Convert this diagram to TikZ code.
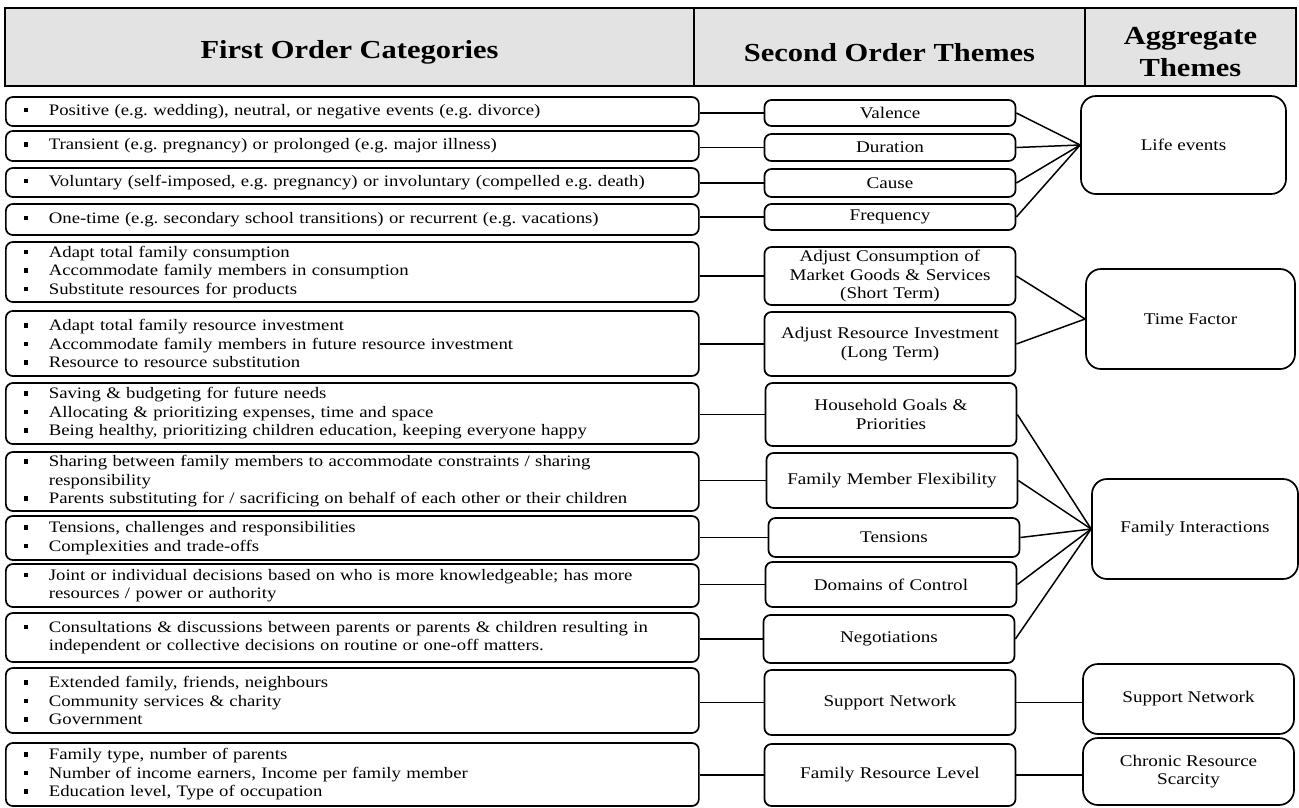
\documentclass[tikz,border=0pt]{standalone}
\usepackage{fontspec}
\setmainfont{Liberation Serif}[FakeStretch=1.172]
\usepackage{tikz}
\frenchspacing

\newcommand{\sqb}{\makebox[25pt][l]{\rule[3pt]{4.5pt}{4.5pt}}}
\newcommand{\nob}{\makebox[25pt][l]{}}

\begin{document}
\begin{tikzpicture}[x=1pt, y=-1pt,
    headcell/.style={draw, fill=black!11, line width=1.3pt, inner sep=0pt, align=center,
        minimum height=78, font=\bfseries\fontsize{26}{32}\selectfont},
    firstbox/.style={draw, rounded corners=7pt, line width=1.7pt, anchor=west, align=left,
        inner xsep=18pt, inner ysep=0pt, text width=657pt, font=\fontsize{16}{18.5}\selectfont},
    secbox/.style={draw, rounded corners=7pt, line width=1.7pt, align=center, inner sep=0pt,
        text width=251pt, font=\fontsize{16.3}{18.5}\selectfont},
    aggbox/.style={draw, rounded corners=15pt, line width=1.7pt, align=center, inner sep=0pt,
        font=\fontsize{16.3}{18.5}\selectfont},
    link/.style={line width=1.5pt}]
    \useasboundingbox (0,0) rectangle (1299,807);

    % header
    \node[headcell, minimum width=689, text height=29pt] (hf) at (349.5,47) {First Order Categories};
    \node[headcell, minimum width=391, text height=29pt] (hs) at (889.5,47) {Second Order Themes};
    \node[headcell, minimum width=211, text height=60pt] (ha) at (1190.5,47) {Aggregate\\Themes};

    % first order categories
    \node[firstbox, minimum height=29] (f1) at (5,111.5)
        {\sqb Positive (e.g. wedding), neutral, or negative events (e.g. divorce)};
    \node[firstbox, minimum height=30] (f2) at (5,146)
        {\sqb Transient (e.g. pregnancy) or prolonged (e.g. major illness)};
    \node[firstbox, minimum height=29] (f3) at (5,182.5)
        {\sqb Voluntary (self-imposed, e.g. pregnancy) or involuntary (compelled e.g. death)};
    \node[firstbox, minimum height=31] (f4) at (5,219.5)
        {\sqb One-time (e.g. secondary school transitions) or recurrent (e.g. vacations)};
    \node[firstbox, minimum height=60] (f5) at (5,272)
        {\sqb Adapt total family consumption\\
         \sqb Accommodate family members in consumption\\
         \sqb Substitute resources for products};
    \node[firstbox, minimum height=65] (f6) at (5,343.5)
        {\sqb Adapt total family resource investment\\
         \sqb Accommodate family members in future resource investment\\
         \sqb Resource to resource substitution};
    \node[firstbox, minimum height=61] (f7) at (5,413.5)
        {\sqb Saving \& budgeting for future needs\\
         \sqb Allocating \& prioritizing expenses, time and space\\
         \sqb Being healthy, prioritizing children education, keeping everyone happy};
    \node[firstbox, minimum height=59] (f8) at (5,481.5)
        {\sqb Sharing between family members to accommodate constraints / sharing\\
         \nob responsibility\\
         \sqb Parents substituting for / sacrificing on behalf of each other or their children};
    \node[firstbox, minimum height=44] (f9) at (5,538)
        {\sqb Tensions, challenges and responsibilities\\
         \sqb Complexities and trade-offs};
    \node[firstbox, minimum height=43] (f10) at (5,585.5)
        {\sqb Joint or individual decisions based on who is more knowledgeable; has more\\
         \nob resources / power or authority};
    \node[firstbox, minimum height=49] (f11) at (5,637.5)
        {\sqb Consultations \& discussions between parents or parents \& children resulting in\\
         \nob independent or collective decisions on routine or one-off matters.};
    \node[firstbox, minimum height=65] (f12) at (5,700.5)
        {\sqb Extended family, friends, neighbours\\
         \sqb Community services \& charity\\
         \sqb Government};
    \node[firstbox, minimum height=63] (f13) at (5,774.5)
        {\sqb Family type, number of parents\\
         \sqb Number of income earners, Income per family member\\
         \sqb Education level, Type of occupation};

    % second order themes
    \node[secbox, minimum height=26] (s1) at (890,113) {Valence};
    \node[secbox, minimum height=27] (s2) at (890,147.5) {Duration};
    \node[secbox, minimum height=28] (s3) at (890,183) {Cause};
    \node[secbox, minimum height=26] (s4) at (890,217) {Frequency};
    \node[secbox, minimum height=58] (s5) at (890,276)
        {Adjust Consumption of\\Market Goods \& Services\\(Short Term)};
    \node[secbox, minimum height=64] (s6) at (890,344) {Adjust Resource Investment\\(Long Term)};
    \node[secbox, minimum height=63] (s7) at (891,414.5) {Household Goals \&\\Priorities};
    \node[secbox, minimum height=55] (s8) at (892,480.5) {Family Member Flexibility};
    \node[secbox, minimum height=39] (s9) at (894,537.5) {Tensions};
    \node[secbox, minimum height=45] (s10) at (891,584.5) {Domains of Control};
    \node[secbox, minimum height=48] (s11) at (889,639) {Negotiations};
    \node[secbox, minimum height=65] (s12) at (890,702.5) {Support Network};
    \node[secbox, minimum height=62] (s13) at (890,775) {Family Resource Level};

    % aggregate themes
    \node[aggbox, minimum width=205, minimum height=98] (a1) at (1183.5,145) {Life events};
    \node[aggbox, minimum width=209, minimum height=100] (a2) at (1190.5,319) {Time Factor};
    \node[aggbox, minimum width=206, minimum height=100] (a3) at (1195,529) {Family Interactions};
    \node[aggbox, minimum width=211, minimum height=70] (a4) at (1188.5,699) {Support Network};
    \node[aggbox, minimum width=211, minimum height=67] (a5) at (1188.5,771.5) {Chronic Resource\\Scarcity};

    % first order -> second order
    \foreach \i in {1,...,13}
        \draw[link] (s\i.west) -- (s\i.west -| f\i.east);

    % second order -> aggregate
    \foreach \i in {1,...,4}
        \draw[link] (s\i.east) -- (a1.west);
    \foreach \i in {5,6}
        \draw[link] (s\i.east) -- (a2.west);
    \foreach \i in {7,...,11}
        \draw[link] (s\i.east) -- (a3.west);
    \draw[link] (s12.east) -- (s12.east -| a4.west);
    \draw[link] (s13.east) -- (s13.east -| a5.west);
\end{tikzpicture}
\end{document}
